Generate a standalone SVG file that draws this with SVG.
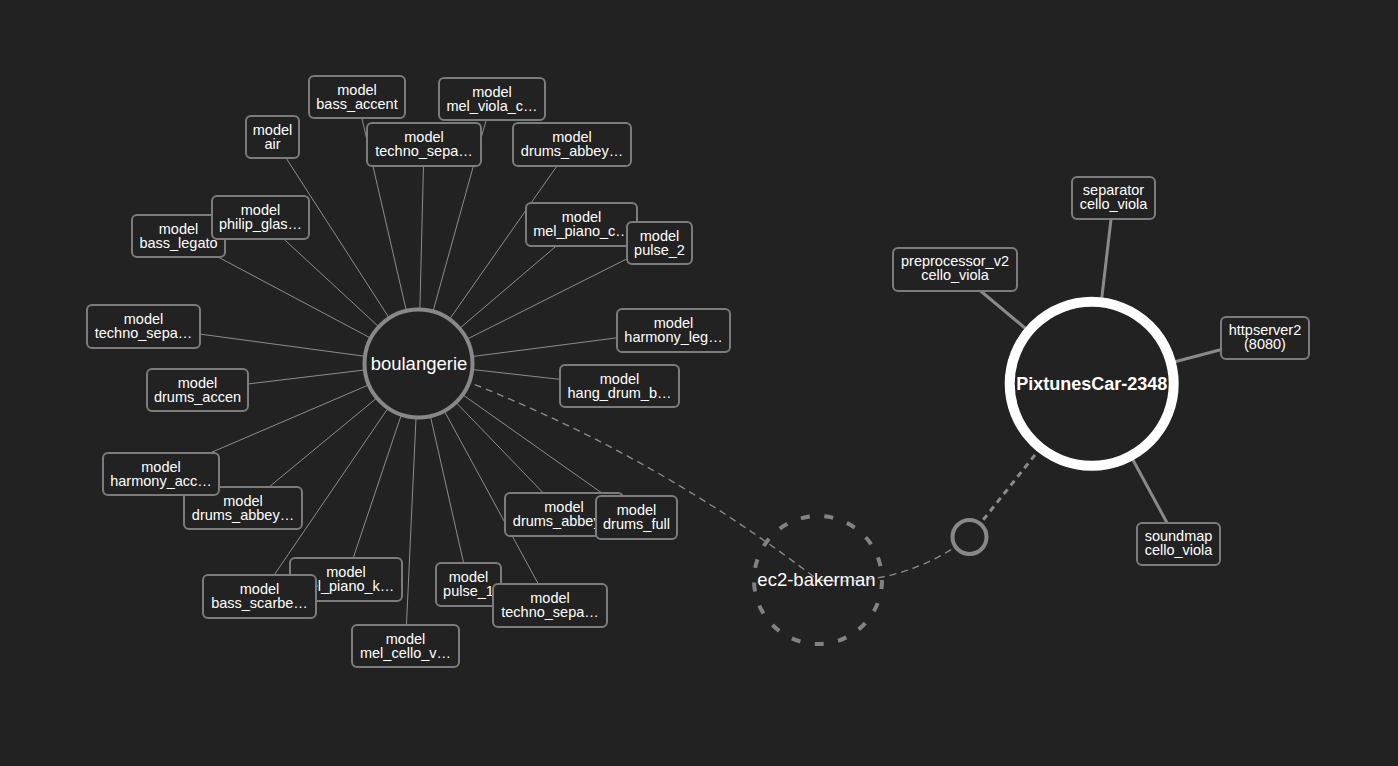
<svg xmlns="http://www.w3.org/2000/svg" width="1398" height="766" viewBox="0 0 1398 766">
  <style>
    .bg { fill: #222222; }
    .spoke { stroke: #8c8c8c; stroke-width: 1; fill: none; }
    .spoke-thick { stroke: #8a8a8a; stroke-width: 3; fill: none; }
    .link-thin { stroke: #8a8a8a; stroke-width: 1.4; stroke-dasharray: 7 5; fill: none; }
    .link-thick { stroke: #8a8a8a; stroke-width: 3; stroke-dasharray: 6 5; fill: none; }
    .box { fill: #222222; stroke: #7c7c7c; stroke-width: 2; }
    .lbl { font-family: "Liberation Sans", Arial, Helvetica, sans-serif; font-size: 14.5px; fill: #ffffff; text-anchor: middle; }
    .hub { fill: #222222; stroke: #888888; stroke-width: 4; }
    .hub-text { font-family: "Liberation Sans", Arial, Helvetica, sans-serif; font-size: 18.5px; fill: #ffffff; text-anchor: middle; }
    .host { fill: #222222; stroke: #ffffff; stroke-width: 10; }
    .host-text { font-family: "Liberation Sans", Arial, Helvetica, sans-serif; font-size: 18px; font-weight: bold; fill: #ffffff; text-anchor: middle; }
    .cluster { fill: none; stroke: #828282; stroke-width: 4; stroke-dasharray: 9 14.65; }
    .ring { fill: #222222; stroke: #888888; stroke-width: 4; }
  </style>
  <defs>
    <!-- the drums_full box sits on top of this label, so only its left part shows -->
    <clipPath id="clip-drums-abbey-2">
      <rect x="505" y="493" width="90" height="43"/>
    </clipPath>
  </defs>

  <rect class="bg" x="0" y="0" width="1398" height="766"/>

  <!-- connectors -->
  <g id="connectors">
    <!-- boulangerie spokes -->
    <line class="spoke" x1="418.5" y1="363.5" x2="272.5" y2="137"/>
    <line class="spoke" x1="418.5" y1="363.5" x2="357" y2="97"/>
    <line class="spoke" x1="418.5" y1="363.5" x2="424" y2="144.5"/>
    <line class="spoke" x1="418.5" y1="363.5" x2="492" y2="99"/>
    <line class="spoke" x1="418.5" y1="363.5" x2="572" y2="144.5"/>
    <line class="spoke" x1="418.5" y1="363.5" x2="581.5" y2="224.5"/>
    <line class="spoke" x1="418.5" y1="363.5" x2="659.5" y2="242.5"/>
    <line class="spoke" x1="418.5" y1="363.5" x2="673.5" y2="330.5"/>
    <line class="spoke" x1="418.5" y1="363.5" x2="619.5" y2="386"/>
    <line class="spoke" x1="418.5" y1="363.5" x2="564" y2="514.5"/>
    <line class="spoke" x1="418.5" y1="363.5" x2="636.5" y2="517.5"/>
    <line class="spoke" x1="418.5" y1="363.5" x2="550" y2="605.5"/>
    <line class="spoke" x1="418.5" y1="363.5" x2="468.5" y2="584.5"/>
    <line class="spoke" x1="418.5" y1="363.5" x2="405.5" y2="646"/>
    <line class="spoke" x1="418.5" y1="363.5" x2="346" y2="579.5"/>
    <line class="spoke" x1="418.5" y1="363.5" x2="259.5" y2="596.5"/>
    <line class="spoke" x1="418.5" y1="363.5" x2="243" y2="508.5"/>
    <line class="spoke" x1="418.5" y1="363.5" x2="161" y2="474"/>
    <line class="spoke" x1="418.5" y1="363.5" x2="197.5" y2="390"/>
    <line class="spoke" x1="418.5" y1="363.5" x2="143.5" y2="326.5"/>
    <line class="spoke" x1="418.5" y1="363.5" x2="178.5" y2="236"/>
    <line class="spoke" x1="418.5" y1="363.5" x2="260.5" y2="217.5"/>

    <!-- PixtunesCar spokes -->
    <line class="spoke-thick" x1="1091.7" y1="383.8" x2="1113.5" y2="198"/>
    <line class="spoke-thick" x1="1091.7" y1="383.8" x2="955" y2="269.5"/>
    <line class="spoke-thick" x1="1091.7" y1="383.8" x2="1265" y2="338"/>
    <line class="spoke-thick" x1="1091.7" y1="383.8" x2="1178.5" y2="544"/>

    <!-- cluster links -->
    <path class="link-thin" d="M 418.5 363.5 Q 636 440 818 580"/>
    <path class="link-thin" d="M 818 580 Q 902 588 969.5 537"/>
    <path class="link-thick" d="M 969.5 537 L 1091.7 383.8"/>
  </g>

  <!-- cluster host ec2-bakerman -->
  <g id="node-ec2-bakerman">
    <circle class="cluster" cx="818" cy="580" r="64"/>
    <text class="hub-text" x="816.5" y="586">ec2-bakerman</text>
  </g>

  <g id="node-junction">
    <circle class="ring" cx="969.5" cy="537" r="17"/>
  </g>

  <!-- boulangerie hub -->
  <g id="node-boulangerie">
    <circle class="hub" cx="418.5" cy="363.5" r="54"/>
    <text class="hub-text" x="419" y="369.5">boulangerie</text>
  </g>

  <!-- boulangerie models -->
  <g id="node-air">
    <rect class="box" x="246" y="116" width="53" height="42" rx="5"/>
    <text class="lbl" x="272.5" y="134.5">model</text>
    <text class="lbl" x="272.5" y="149">air</text>
  </g>
  <g id="node-bass-accent">
    <rect class="box" x="309" y="76" width="96" height="42" rx="5"/>
    <text class="lbl" x="357" y="94.5">model</text>
    <text class="lbl" x="357" y="109">bass_accent</text>
  </g>
  <g id="node-techno-sepa-1">
    <rect class="box" x="367" y="123" width="114" height="43" rx="5"/>
    <text class="lbl" x="424" y="141.5">model</text>
    <text class="lbl" x="424" y="156">techno_sepa…</text>
  </g>
  <g id="node-mel-viola">
    <rect class="box" x="439" y="78" width="106" height="42" rx="5"/>
    <text class="lbl" x="492" y="96.5">model</text>
    <text class="lbl" x="492" y="111">mel_viola_c…</text>
  </g>
  <g id="node-drums-abbey-1">
    <rect class="box" x="513" y="123" width="118" height="43" rx="5"/>
    <text class="lbl" x="572" y="141.5">model</text>
    <text class="lbl" x="572" y="156">drums_abbey…</text>
  </g>
  <g id="node-mel-piano-c">
    <rect class="box" x="526" y="203" width="111" height="43" rx="5"/>
    <text class="lbl" x="581.5" y="221.5">model</text>
    <text class="lbl" x="581.5" y="236">mel_piano_c…</text>
  </g>
  <g id="node-pulse-2">
    <rect class="box" x="627" y="222" width="65" height="42" rx="5"/>
    <text class="lbl" x="659.5" y="240.5">model</text>
    <text class="lbl" x="659.5" y="255">pulse_2</text>
  </g>
  <g id="node-harmony-leg">
    <rect class="box" x="617" y="309" width="113" height="43" rx="5"/>
    <text class="lbl" x="673.5" y="327.5">model</text>
    <text class="lbl" x="673.5" y="342">harmony_leg…</text>
  </g>
  <g id="node-hang-drum">
    <rect class="box" x="560" y="365" width="119" height="42" rx="5"/>
    <text class="lbl" x="619.5" y="383.5">model</text>
    <text class="lbl" x="619.5" y="398">hang_drum_b…</text>
  </g>
  <g id="node-drums-abbey-2">
    <rect class="box" x="505" y="493" width="118" height="43" rx="5"/>
    <g clip-path="url(#clip-drums-abbey-2)">
      <text class="lbl" x="564" y="511.5">model</text>
      <text class="lbl" x="564" y="526">drums_abbey…</text>
    </g>
  </g>
  <g id="node-drums-full">
    <rect class="box" x="596" y="496" width="81" height="43" rx="5"/>
    <text class="lbl" x="636.5" y="514.5">model</text>
    <text class="lbl" x="636.5" y="529">drums_full</text>
  </g>
  <g id="node-pulse-1">
    <rect class="box" x="436" y="563" width="65" height="43" rx="5"/>
    <text class="lbl" x="468.5" y="581.5">model</text>
    <text class="lbl" x="468.5" y="596">pulse_1</text>
  </g>
  <g id="node-techno-sepa-2">
    <rect class="box" x="493" y="584" width="114" height="43" rx="5"/>
    <text class="lbl" x="550" y="602.5">model</text>
    <text class="lbl" x="550" y="617">techno_sepa…</text>
  </g>
  <g id="node-mel-cello">
    <rect class="box" x="352" y="625" width="107" height="42" rx="5"/>
    <text class="lbl" x="405.5" y="643.5">model</text>
    <text class="lbl" x="405.5" y="658">mel_cello_v…</text>
  </g>
  <g id="node-mel-piano-k">
    <rect class="box" x="290" y="558" width="112" height="43" rx="5"/>
    <text class="lbl" x="346" y="576.5">model</text>
    <text class="lbl" x="346" y="591">mel_piano_k…</text>
  </g>
  <g id="node-bass-scarbe">
    <rect class="box" x="203" y="575" width="113" height="43" rx="5"/>
    <text class="lbl" x="259.5" y="593.5">model</text>
    <text class="lbl" x="259.5" y="608">bass_scarbe…</text>
  </g>
  <g id="node-drums-abbey-3">
    <rect class="box" x="184" y="487" width="118" height="42" rx="5"/>
    <text class="lbl" x="243" y="505.5">model</text>
    <text class="lbl" x="243" y="520">drums_abbey…</text>
  </g>
  <g id="node-harmony-acc">
    <rect class="box" x="103" y="453" width="116" height="42" rx="5"/>
    <text class="lbl" x="161" y="471.5">model</text>
    <text class="lbl" x="161" y="486">harmony_acc…</text>
  </g>
  <g id="node-drums-accen">
    <rect class="box" x="147" y="369" width="101" height="42" rx="5"/>
    <text class="lbl" x="197.5" y="387.5">model</text>
    <text class="lbl" x="197.5" y="402">drums_accen</text>
  </g>
  <g id="node-techno-sepa-3">
    <rect class="box" x="87" y="305" width="113" height="43" rx="5"/>
    <text class="lbl" x="143.5" y="323.5">model</text>
    <text class="lbl" x="143.5" y="338">techno_sepa…</text>
  </g>
  <g id="node-bass-legato">
    <rect class="box" x="132" y="215" width="93" height="42" rx="5"/>
    <text class="lbl" x="178.5" y="233.5">model</text>
    <text class="lbl" x="178.5" y="248">bass_legato</text>
  </g>
  <g id="node-philip-glass">
    <rect class="box" x="212" y="196" width="97" height="43" rx="5"/>
    <text class="lbl" x="260.5" y="214.5">model</text>
    <text class="lbl" x="260.5" y="229">philip_glas…</text>
  </g>

  <!-- PixtunesCar host and its services -->
  <g id="node-pixtunescar">
    <circle class="host" cx="1091.7" cy="383.8" r="82"/>
    <text class="host-text" x="1091.7" y="389.5">PixtunesCar-2348</text>
  </g>
  <g id="node-separator">
    <rect class="box" x="1072" y="177" width="83" height="42" rx="5"/>
    <text class="lbl" x="1113.5" y="195">separator</text>
    <text class="lbl" x="1113.5" y="209">cello_viola</text>
  </g>
  <g id="node-preprocessor">
    <rect class="box" x="893" y="248" width="124" height="43" rx="5"/>
    <text class="lbl" x="955" y="266">preprocessor_v2</text>
    <text class="lbl" x="955" y="280">cello_viola</text>
  </g>
  <g id="node-httpserver">
    <rect class="box" x="1221" y="317" width="88" height="42" rx="5"/>
    <text class="lbl" x="1265" y="334.5">httpserver2</text>
    <text class="lbl" x="1265" y="348.5">(8080)</text>
  </g>
  <g id="node-soundmap">
    <rect class="box" x="1137" y="523" width="83" height="42" rx="5"/>
    <text class="lbl" x="1178.5" y="541">soundmap</text>
    <text class="lbl" x="1178.5" y="555">cello_viola</text>
  </g>
</svg>
